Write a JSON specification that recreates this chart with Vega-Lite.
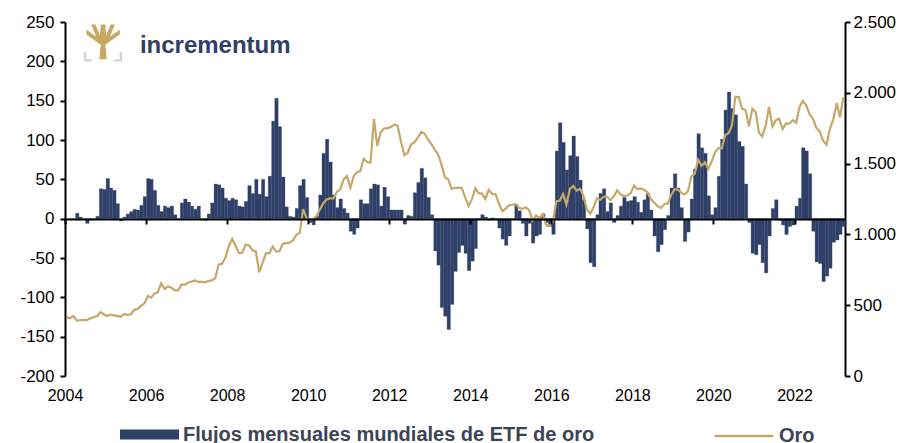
{
  "$schema": "https://vega.github.io/schema/vega-lite/v6.json",
  "width": 780,
  "height": 354,
  "autosize": {"type": "none"},
  "padding": {"left": 65, "top": 22, "right": 59, "bottom": 67},
  "background": "white",
  "config": {"view": {"stroke": null}, "font": "Liberation Sans"},
  "datasets": {
    "m": [
      {"date":"2004-01-01","flow":0,"gold":415},{"date":"2004-02-01","flow":0,"gold":408},{"date":"2004-03-01","flow":0,"gold":424},{"date":"2004-04-01","flow":7,"gold":392},{"date":"2004-05-01","flow":2,"gold":394},{"date":"2004-06-01","flow":0,"gold":397},{"date":"2004-07-01","flow":-6,"gold":395},{"date":"2004-08-01","flow":0,"gold":407},{"date":"2004-09-01","flow":0,"gold":416},{"date":"2004-10-01","flow":3,"gold":422},{"date":"2004-11-01","flow":38,"gold":450},{"date":"2004-12-01","flow":37,"gold":436},
      {"date":"2005-01-01","flow":51,"gold":424},{"date":"2005-02-01","flow":39,"gold":434},{"date":"2005-03-01","flow":36,"gold":428},{"date":"2005-04-01","flow":19,"gold":425},{"date":"2005-05-01","flow":-3,"gold":418},{"date":"2005-06-01","flow":2,"gold":437},{"date":"2005-07-01","flow":6,"gold":432},{"date":"2005-08-01","flow":9,"gold":436},{"date":"2005-09-01","flow":12,"gold":468},{"date":"2005-10-01","flow":11,"gold":474},{"date":"2005-11-01","flow":17,"gold":495},{"date":"2005-12-01","flow":28,"gold":513},
      {"date":"2006-01-01","flow":51,"gold":565},{"date":"2006-02-01","flow":50,"gold":553},{"date":"2006-03-01","flow":36,"gold":582},{"date":"2006-04-01","flow":17,"gold":590},{"date":"2006-05-01","flow":9,"gold":655},{"date":"2006-06-01","flow":16,"gold":615},{"date":"2006-07-01","flow":14,"gold":632},{"date":"2006-08-01","flow":16,"gold":624},{"date":"2006-09-01","flow":5,"gold":605},{"date":"2006-10-01","flow":0,"gold":605},{"date":"2006-11-01","flow":20,"gold":645},{"date":"2006-12-01","flow":25,"gold":645},
      {"date":"2007-01-01","flow":21,"gold":660},{"date":"2007-02-01","flow":16,"gold":667},{"date":"2007-03-01","flow":12,"gold":675},{"date":"2007-04-01","flow":16,"gold":665},{"date":"2007-05-01","flow":0,"gold":665},{"date":"2007-06-01","flow":-2,"gold":663},{"date":"2007-07-01","flow":6,"gold":670},{"date":"2007-08-01","flow":20,"gold":675},{"date":"2007-09-01","flow":44,"gold":690},{"date":"2007-10-01","flow":43,"gold":787},{"date":"2007-11-01","flow":39,"gold":792},{"date":"2007-12-01","flow":26,"gold":834},
      {"date":"2008-01-01","flow":23,"gold":918},{"date":"2008-02-01","flow":26,"gold":968},{"date":"2008-03-01","flow":24,"gold":922},{"date":"2008-04-01","flow":16,"gold":868},{"date":"2008-05-01","flow":15,"gold":870},{"date":"2008-06-01","flow":22,"gold":928},{"date":"2008-07-01","flow":42,"gold":922},{"date":"2008-08-01","flow":32,"gold":888},{"date":"2008-09-01","flow":50,"gold":880},{"date":"2008-10-01","flow":31,"gold":732},{"date":"2008-11-01","flow":50,"gold":800},{"date":"2008-12-01","flow":28,"gold":868},
      {"date":"2009-01-01","flow":54,"gold":868},{"date":"2009-02-01","flow":124,"gold":914},{"date":"2009-03-01","flow":153,"gold":880},{"date":"2009-04-01","flow":117,"gold":880},{"date":"2009-05-01","flow":53,"gold":933},{"date":"2009-06-01","flow":15,"gold":938},{"date":"2009-07-01","flow":3,"gold":942},{"date":"2009-08-01","flow":2,"gold":958},{"date":"2009-09-01","flow":13,"gold":997},{"date":"2009-10-01","flow":42,"gold":1010},{"date":"2009-11-01","flow":50,"gold":1178},{"date":"2009-12-01","flow":27,"gold":1115},
      {"date":"2010-01-01","flow":-5,"gold":1100},{"date":"2010-02-01","flow":-8,"gold":1110},{"date":"2010-03-01","flow":3,"gold":1129},{"date":"2010-04-01","flow":30,"gold":1176},{"date":"2010-05-01","flow":83,"gold":1219},{"date":"2010-06-01","flow":101,"gold":1247},{"date":"2010-07-01","flow":72,"gold":1254},{"date":"2010-08-01","flow":30,"gold":1254},{"date":"2010-09-01","flow":14,"gold":1300},{"date":"2010-10-01","flow":25,"gold":1317},{"date":"2010-11-01","flow":13,"gold":1388},{"date":"2010-12-01","flow":7,"gold":1412},
      {"date":"2011-01-01","flow":-16,"gold":1329},{"date":"2011-02-01","flow":-20,"gold":1412},{"date":"2011-03-01","flow":-12,"gold":1440},{"date":"2011-04-01","flow":24,"gold":1447},{"date":"2011-05-01","flow":19,"gold":1534},{"date":"2011-06-01","flow":19,"gold":1511},{"date":"2011-07-01","flow":38,"gold":1506},{"date":"2011-08-01","flow":44,"gold":1815},{"date":"2011-09-01","flow":43,"gold":1625},{"date":"2011-10-01","flow":16,"gold":1721},{"date":"2011-11-01","flow":40,"gold":1749},{"date":"2011-12-01","flow":28,"gold":1749},
      {"date":"2012-01-01","flow":11,"gold":1760},{"date":"2012-02-01","flow":11,"gold":1775},{"date":"2012-03-01","flow":11,"gold":1768},{"date":"2012-04-01","flow":11,"gold":1655},{"date":"2012-05-01","flow":-7,"gold":1560},{"date":"2012-06-01","flow":4,"gold":1575},{"date":"2012-07-01","flow":3,"gold":1636},{"date":"2012-08-01","flow":33,"gold":1652},{"date":"2012-09-01","flow":46,"gold":1683},{"date":"2012-10-01","flow":64,"gold":1723},{"date":"2012-11-01","flow":52,"gold":1711},{"date":"2012-12-01","flow":27,"gold":1669},
      {"date":"2013-01-01","flow":5,"gold":1636},{"date":"2013-02-01","flow":-41,"gold":1598},{"date":"2013-03-01","flow":-59,"gold":1565},{"date":"2013-04-01","flow":-113,"gold":1494},{"date":"2013-05-01","flow":-124,"gold":1405},{"date":"2013-06-01","flow":-141,"gold":1388},{"date":"2013-07-01","flow":-109,"gold":1322},{"date":"2013-08-01","flow":-67,"gold":1329},{"date":"2013-09-01","flow":-43,"gold":1329},{"date":"2013-10-01","flow":-34,"gold":1329},{"date":"2013-11-01","flow":-44,"gold":1259},{"date":"2013-12-01","flow":-66,"gold":1200},
      {"date":"2014-01-01","flow":-54,"gold":1251},{"date":"2014-02-01","flow":-38,"gold":1326},{"date":"2014-03-01","flow":-1,"gold":1291},{"date":"2014-04-01","flow":5,"gold":1288},{"date":"2014-05-01","flow":2,"gold":1250},{"date":"2014-06-01","flow":-2,"gold":1315},{"date":"2014-07-01","flow":1,"gold":1285},{"date":"2014-08-01","flow":0,"gold":1285},{"date":"2014-09-01","flow":-12,"gold":1217},{"date":"2014-10-01","flow":-26,"gold":1164},{"date":"2014-11-01","flow":-34,"gold":1182},{"date":"2014-12-01","flow":-22,"gold":1206},
      {"date":"2015-01-01","flow":0,"gold":1210},{"date":"2015-02-01","flow":18,"gold":1214},{"date":"2015-03-01","flow":10,"gold":1187},{"date":"2015-04-01","flow":-6,"gold":1180},{"date":"2015-05-01","flow":-22,"gold":1191},{"date":"2015-06-01","flow":-6,"gold":1172},{"date":"2015-07-01","flow":-31,"gold":1098},{"date":"2015-08-01","flow":-22,"gold":1135},{"date":"2015-09-01","flow":-20,"gold":1115},{"date":"2015-10-01","flow":6,"gold":1142},{"date":"2015-11-01","flow":-5,"gold":1065},{"date":"2015-12-01","flow":-10,"gold":1060},
      {"date":"2016-01-01","flow":-20,"gold":1097},{"date":"2016-02-01","flow":86,"gold":1234},{"date":"2016-03-01","flow":122,"gold":1237},{"date":"2016-04-01","flow":97,"gold":1285},{"date":"2016-05-01","flow":62,"gold":1212},{"date":"2016-06-01","flow":80,"gold":1320},{"date":"2016-07-01","flow":105,"gold":1342},{"date":"2016-08-01","flow":79,"gold":1309},{"date":"2016-09-01","flow":49,"gold":1322},{"date":"2016-10-01","flow":24,"gold":1272},{"date":"2016-11-01","flow":-13,"gold":1178},{"date":"2016-12-01","flow":-56,"gold":1146},
      {"date":"2017-01-01","flow":-61,"gold":1191},{"date":"2017-02-01","flow":5,"gold":1255},{"date":"2017-03-01","flow":32,"gold":1245},{"date":"2017-04-01","flow":38,"gold":1266},{"date":"2017-05-01","flow":9,"gold":1266},{"date":"2017-06-01","flow":20,"gold":1243},{"date":"2017-07-01","flow":-5,"gold":1267},{"date":"2017-08-01","flow":4,"gold":1311},{"date":"2017-09-01","flow":16,"gold":1283},{"date":"2017-10-01","flow":27,"gold":1270},{"date":"2017-11-01","flow":22,"gold":1275},{"date":"2017-12-01","flow":23,"gold":1291},
      {"date":"2018-01-01","flow":28,"gold":1345},{"date":"2018-02-01","flow":21,"gold":1318},{"date":"2018-03-01","flow":8,"gold":1324},{"date":"2018-04-01","flow":24,"gold":1315},{"date":"2018-05-01","flow":32,"gold":1298},{"date":"2018-06-01","flow":11,"gold":1250},{"date":"2018-07-01","flow":-22,"gold":1224},{"date":"2018-08-01","flow":-42,"gold":1200},{"date":"2018-09-01","flow":-33,"gold":1187},{"date":"2018-10-01","flow":-14,"gold":1215},{"date":"2018-11-01","flow":4,"gold":1217},{"date":"2018-12-01","flow":39,"gold":1279},
      {"date":"2019-01-01","flow":57,"gold":1319},{"date":"2019-02-01","flow":39,"gold":1316},{"date":"2019-03-01","flow":14,"gold":1295},{"date":"2019-04-01","flow":-29,"gold":1282},{"date":"2019-05-01","flow":-17,"gold":1305},{"date":"2019-06-01","flow":25,"gold":1409},{"date":"2019-07-01","flow":63,"gold":1427},{"date":"2019-08-01","flow":108,"gold":1528},{"date":"2019-09-01","flow":90,"gold":1485},{"date":"2019-10-01","flow":83,"gold":1510},{"date":"2019-11-01","flow":29,"gold":1464},{"date":"2019-12-01","flow":5,"gold":1515},
      {"date":"2020-01-01","flow":14,"gold":1582},{"date":"2020-02-01","flow":54,"gold":1609},{"date":"2020-03-01","flow":101,"gold":1608},{"date":"2020-04-01","flow":138,"gold":1702},{"date":"2020-05-01","flow":161,"gold":1715},{"date":"2020-06-01","flow":140,"gold":1768},{"date":"2020-07-01","flow":132,"gold":1971},{"date":"2020-08-01","flow":98,"gold":1970},{"date":"2020-09-01","flow":92,"gold":1887},{"date":"2020-10-01","flow":44,"gold":1879},{"date":"2020-11-01","flow":-5,"gold":1763},{"date":"2020-12-01","flow":-44,"gold":1887},
      {"date":"2021-01-01","flow":-46,"gold":1863},{"date":"2021-02-01","flow":-33,"gold":1718},{"date":"2021-03-01","flow":-56,"gold":1691},{"date":"2021-04-01","flow":-69,"gold":1769},{"date":"2021-05-01","flow":-22,"gold":1900},{"date":"2021-06-01","flow":13,"gold":1763},{"date":"2021-07-01","flow":24,"gold":1807},{"date":"2021-08-01","flow":-2,"gold":1817},{"date":"2021-09-01","flow":-8,"gold":1743},{"date":"2021-10-01","flow":-20,"gold":1784},{"date":"2021-11-01","flow":-10,"gold":1782},{"date":"2021-12-01","flow":-8,"gold":1806},
      {"date":"2022-01-01","flow":16,"gold":1789},{"date":"2022-02-01","flow":26,"gold":1900},{"date":"2022-03-01","flow":90,"gold":1942},{"date":"2022-04-01","flow":86,"gold":1911},{"date":"2022-05-01","flow":57,"gold":1849},{"date":"2022-06-01","flow":-16,"gold":1817},{"date":"2022-07-01","flow":-55,"gold":1753},{"date":"2022-08-01","flow":-57,"gold":1726},{"date":"2022-09-01","flow":-80,"gold":1661},{"date":"2022-10-01","flow":-73,"gold":1633},{"date":"2022-11-01","flow":-63,"gold":1746},{"date":"2022-12-01","flow":-30,"gold":1812},
      {"date":"2023-01-01","flow":-27,"gold":1928},{"date":"2023-02-01","flow":-20,"gold":1827},{"date":"2023-03-01","flow":-10,"gold":1969}
    ],
    "logo": [{"date": "2004-12-09", "flow": 224}],
    "brand": [{"date": "2005-11-06", "flow": 211, "t": "incrementum"}]
  },
  "layer": [
    {
      "data": {"name": "m"},
      "mark": {"type": "bar", "binSpacing": 0, "timeUnitBandSize": 1, "timeUnitBandPosition": 0, "stroke": "#2f4068", "strokeWidth": 0.3},
      "encoding": {
        "x": {
          "field": "date", "timeUnit": "utcyearmonth", "type": "temporal",
          "scale": {"type": "utc", "domain": [{"year": 2004, "month": 1, "date": 1, "utc": true}, {"year": 2023, "month": 4, "date": 1, "utc": true}]},
          "axis": {
            "values": [{"year": 2004, "utc": true}, {"year": 2006, "utc": true}, {"year": 2008, "utc": true}, {"year": 2010, "utc": true}, {"year": 2012, "utc": true}, {"year": 2014, "utc": true}, {"year": 2016, "utc": true}, {"year": 2018, "utc": true}, {"year": 2020, "utc": true}, {"year": 2022, "utc": true}],
            "labelExpr": "utcFormat(datum.value, '%Y')", "title": null, "grid": false,
            "offset": -157, "domainColor": "#000000", "domainWidth": 2,
            "tickColor": "#000000", "tickWidth": 2, "tickSize": 5,
            "labelPadding": 163, "labelFontSize": 16, "labelColor": "#000000", "labelFont": "Liberation Sans",
            "labelFlush": false, "labelOverlap": false, "zindex": 1
          }
        },
        "y": {
          "field": "flow", "type": "quantitative",
          "scale": {"domain": [-200, 250], "nice": false, "zero": false},
          "axis": {
            "values": [-200, -150, -100, -50, 0, 50, 100, 150, 200, 250],
            "labelExpr": "datum.value + ''", "title": null, "grid": false, "labelOverlap": false,
            "domainColor": "#000000", "domainWidth": 2, "tickColor": "#000000", "tickWidth": 2, "tickSize": 5,
            "labelFontSize": 17, "labelColor": "#000000", "labelFont": "Liberation Sans", "labelPadding": 6
          }
        },
        "fill": {
          "datum": "Flujos mensuales mundiales de ETF de oro",
          "scale": {"range": ["#2f4068"]},
          "legend": {
            "orient": "bottom", "direction": "horizontal", "title": null,
            "symbolType": "M-1,-0.17H1V0.17H-1Z", "symbolSize": 3481, "symbolStrokeWidth": 0, "symbolOpacity": 1,
            "labelFont": "Liberation Sans", "labelFontSize": 20, "labelFontWeight": "bold", "labelColor": "#3b4454",
            "labelLimit": 600, "labelOffset": 4, "offset": -53, "padding": 55
          }
        }
      }
    },
    {
      "data": {"name": "m"},
      "mark": {"type": "line", "strokeWidth": 2.2, "interpolate": "linear"},
      "encoding": {
        "x": {"field": "date", "timeUnit": "utcyearmonth", "type": "temporal", "bandPosition": 0.5, "scale": {"type": "utc"}},
        "y": {
          "field": "gold", "type": "quantitative",
          "scale": {"domain": [0, 2500], "nice": false},
          "axis": {
            "orient": "right", "values": [0, 500, 1000, 1500, 2000, 2500],
            "labelExpr": "replace(format(datum.value, ','), ',', '.')", "title": null, "grid": false, "labelOverlap": false,
            "domainColor": "#000000", "domainWidth": 2, "tickColor": "#000000", "tickWidth": 2, "tickSize": 5,
            "labelFontSize": 17, "labelColor": "#000000", "labelFont": "Liberation Sans", "labelPadding": 3
          }
        },
        "stroke": {
          "datum": "Oro",
          "scale": {"range": ["#c5a86a"]},
          "legend": {
            "orient": "bottom", "direction": "horizontal", "title": null,
            "symbolType": "M-1,0H1", "symbolSize": 3481, "symbolStrokeWidth": 2.5,
            "labelFont": "Liberation Sans", "labelFontSize": 20, "labelFontWeight": "bold", "labelColor": "#3b4454",
            "labelLimit": 600, "labelOffset": 4, "offset": -53, "padding": 55
          }
        }
      }
    },
    {
      "data": {"name": "brand"},
      "mark": {"type": "text", "align": "left", "baseline": "alphabetic", "font": "Liberation Sans", "fontSize": 24, "fontWeight": "bold", "fill": "#2f4068"},
      "encoding": {
        "x": {"field": "date", "type": "temporal", "scale": {"type": "utc"}},
        "y": {"field": "flow", "type": "quantitative", "scale": {"domain": [-200, 250], "nice": false, "zero": false}, "axis": null},
        "text": {"field": "t"}
      }
    },
    {
      "data": {"name": "logo"},
      "mark": {"type": "point", "filled": true, "color": "#c8a961", "opacity": 1, "strokeWidth": 0, "size": 1444,
               "shape": "M-0.2,0.88 L-0.12,0.12 L-0.88,-0.42 L-0.88,-0.68 L-0.36,-0.3 L-0.62,-0.95 L-0.4,-0.95 L-0.16,-0.36 L-0.12,-0.95 L0.12,-0.95 L0.16,-0.36 L0.4,-0.95 L0.62,-0.95 L0.36,-0.3 L0.88,-0.68 L0.88,-0.42 L0.12,0.12 L0.2,0.88 Z"},
      "encoding": {
        "x": {"field": "date", "type": "temporal", "scale": {"type": "utc"}},
        "y": {"field": "flow", "type": "quantitative", "scale": {"domain": [-200, 250], "nice": false, "zero": false}, "axis": null}
      }
    },
    {
      "data": {"name": "logo"},
      "mark": {"type": "point", "filled": true, "color": "#d4d4d4", "opacity": 1, "strokeWidth": 0, "size": 1444,
               "shape": "M-1,0.5 H-0.88 V0.88 H-0.6 V1 H-1 Z M1,0.5 H0.88 V0.88 H0.6 V1 H1 Z"},
      "encoding": {
        "x": {"field": "date", "type": "temporal", "scale": {"type": "utc"}},
        "y": {"field": "flow", "type": "quantitative", "scale": {"domain": [-200, 250], "nice": false, "zero": false}, "axis": null}
      }
    }
  ],
  "resolve": {"scale": {"y": "independent"}}
}
